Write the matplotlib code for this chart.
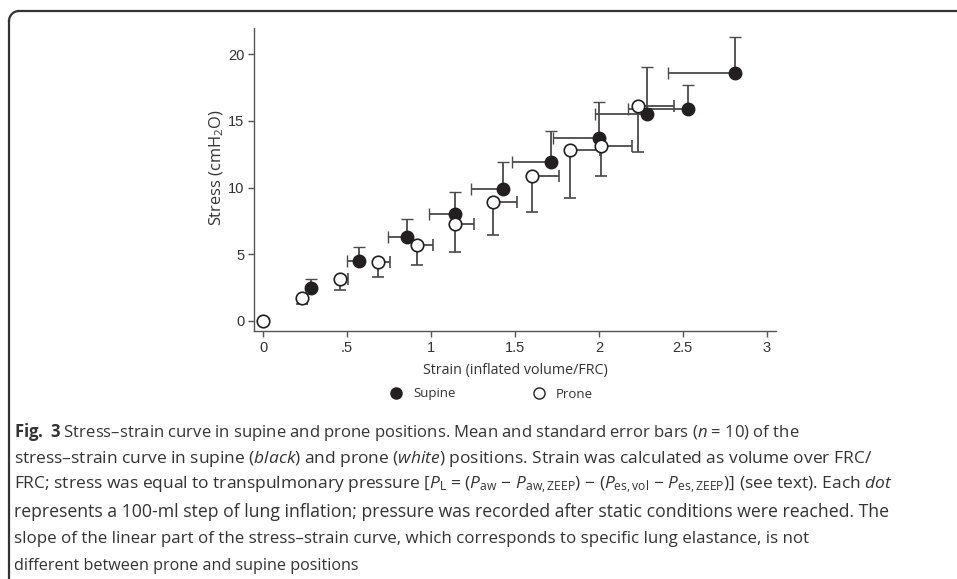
import matplotlib
matplotlib.use("Agg")
import matplotlib.pyplot as plt
from matplotlib.lines import Line2D
from matplotlib.patches import Arc
from matplotlib.transforms import IdentityTransform
import numpy as np

# ---- data ----
supine_x = [0.286, 0.572, 0.855, 1.142, 1.427, 1.713, 1.999, 2.285, 2.529, 2.811]
supine_y = [2.50, 4.50, 6.27, 8.02, 9.90, 11.90, 13.74, 15.52, 15.92, 18.57]
supine_xerr_left = [0.0, 0.075, 0.114, 0.153, 0.191, 0.229, 0.271, 0.308, 0.353, 0.397]
supine_yerr_up = [0.65, 1.07, 1.38, 1.67, 2.04, 2.32, 2.70, 3.54, 1.79, 2.70]

prone_x = [0.0, 0.229, 0.457, 0.686, 0.914, 1.142, 1.371, 1.600, 1.828, 2.010, 2.233]
prone_y = [0.0, 1.75, 3.12, 4.40, 5.70, 7.25, 8.92, 10.90, 12.82, 13.12, 16.14]
prone_xerr_right = [0.0, 0.03, 0.05, 0.069, 0.096, 0.114, 0.139, 0.162, 0.180, 0.190, 0.217]
prone_yerr_down = [0.0, 0.48, 0.80, 1.12, 1.50, 2.05, 2.47, 2.75, 3.62, 2.27, 3.49]

x_ticks = [0, 0.5, 1, 1.5, 2, 2.5, 3]
x_ticklabels = ["0", ".5", "1", "1.5", "2", "2.5", "3"]
y_ticks = [0, 5, 10, 15, 20]
y_ticklabels = ["0", "5", "10", "15", "20"]

caption_lines = [
    r"$\mathbf{Fig.\ 3}$ Stress–strain curve in supine and prone positions. Mean and standard error bars ($\mathit{n}$ = 10) of the",
    r"stress–strain curve in supine ($\mathit{black}$) and prone ($\mathit{white}$) positions. Strain was calculated as volume over FRC/",
    r"FRC; stress was equal to transpulmonary pressure [$\mathit{P}_{\mathrm{L}}$ = ($\mathit{P}_{\mathrm{aw}}$ − $\mathit{P}_{\mathrm{aw,ZEEP}}$) − ($\mathit{P}_{\mathrm{es,vol}}$ − $\mathit{P}_{\mathrm{es,ZEEP}}$)] (see text). Each $\mathit{dot}$",
    r"represents a 100-ml step of lung inflation; pressure was recorded after static conditions were reached. The",
    r"slope of the linear part of the stress–strain curve, which corresponds to specific lung elastance, is not",
    r"different between prone and supine positions",
]
caption_sizes = [12.0, 12.5, 12.5, 12.7, 12.2, 11.6]

# ---- style ----
plt.rcParams["mathtext.fontset"] = "custom"
plt.rcParams["mathtext.rm"] = "Open Sans"
plt.rcParams["mathtext.it"] = "Open Sans:italic"
plt.rcParams["mathtext.bf"] = "Open Sans:bold"
plt.rcParams["font.family"] = ["Open Sans", "DejaVu Sans"]

W, H = 957, 579
fig = plt.figure(figsize=(W / 100, H / 100), dpi=100)

# frame (pixel coordinates, origin bottom-left)
fc = "#333333"
flw = 1.6
r = 10
xl, yt = 9, H - 11
idt = IdentityTransform()
fig.add_artist(Line2D([xl + r, W + 5], [yt, yt], color=fc, lw=flw, transform=idt))
fig.add_artist(Line2D([xl, xl], [yt - r, -5], color=fc, lw=flw, transform=idt))
fig.add_artist(Arc((xl + r, yt - r), 2 * r, 2 * r, theta1=90, theta2=180,
                   color=fc, lw=flw, transform=idt))

ax = fig.add_axes([254 / W, 1 - 331 / H, (776 - 254) / W, (331 - 28) / H])
ax.set_xlim(-0.055, 3.055)
ax.set_ylim(-0.75, 21.96)

ecol = "#4a4a4a"
mcol = "#231f20"

ax.errorbar(supine_x, supine_y,
            xerr=[supine_xerr_left, [0] * len(supine_x)],
            yerr=[[0] * len(supine_y), supine_yerr_up],
            fmt="o", ms=9, mfc=mcol, mec=mcol, mew=1.0,
            ecolor=ecol, elinewidth=1.3, capsize=4, capthick=1.3, zorder=3)
ax.errorbar(prone_x, prone_y,
            xerr=[[0] * len(prone_x), prone_xerr_right],
            yerr=[prone_yerr_down, [0] * len(prone_y)],
            fmt="o", ms=9, mfc="white", mec=mcol, mew=1.2,
            ecolor=ecol, elinewidth=1.3, capsize=4, capthick=1.3, zorder=4)

for s in ["top", "right"]:
    ax.spines[s].set_visible(False)
for s in ["left", "bottom"]:
    ax.spines[s].set_color("#555555")
    ax.spines[s].set_linewidth(1.0)

ax.set_xticks(x_ticks)
ax.set_xticklabels(x_ticklabels)
ax.set_yticks(y_ticks)
ax.set_yticklabels(y_ticklabels)
ax.tick_params(axis="both", direction="out", length=4, width=1.0, color="#555555",
               labelsize=10.5, labelcolor="#333333", pad=3)
for lab in ax.get_xticklabels() + ax.get_yticklabels():
    lab.set_family("Liberation Sans")

ax.set_xlabel("Strain (inflated volume/FRC)", fontsize=10.3, color="#333333", labelpad=6)
ax.set_ylabel("Stress (cmH$_2$O)", fontsize=11.8, color="#333333")
ax.yaxis.set_label_coords((217 - 254) / (776 - 254), (331 - 168) / (331 - 28))
ax.yaxis.label.set_va("center")
ax.yaxis.label.set_ha("center")

handles = [Line2D([], [], marker="o", ls="none", ms=8, mfc=mcol, mec=mcol),
           Line2D([], [], marker="o", ls="none", ms=8, mfc="white", mec=mcol, mew=1.0)]
leg = fig.legend(handles, ["Supine", "Prone"], ncol=2, frameon=False,
                 loc="center", bbox_to_anchor=(491 / W, 1 - 394 / H),
                 fontsize=9.5, handlelength=1.0, handletextpad=0.8, columnspacing=5.8)
for t in leg.get_texts():
    t.set_color("#333333")

y0 = 432
dy = 26.7
for i, line in enumerate(caption_lines):
    fig.text(14 / W, 1 - (y0 + i * dy) / H, line, fontsize=caption_sizes[i], color="#333333",
             ha="left", va="center")

fig.savefig("out.png", dpi=100)
